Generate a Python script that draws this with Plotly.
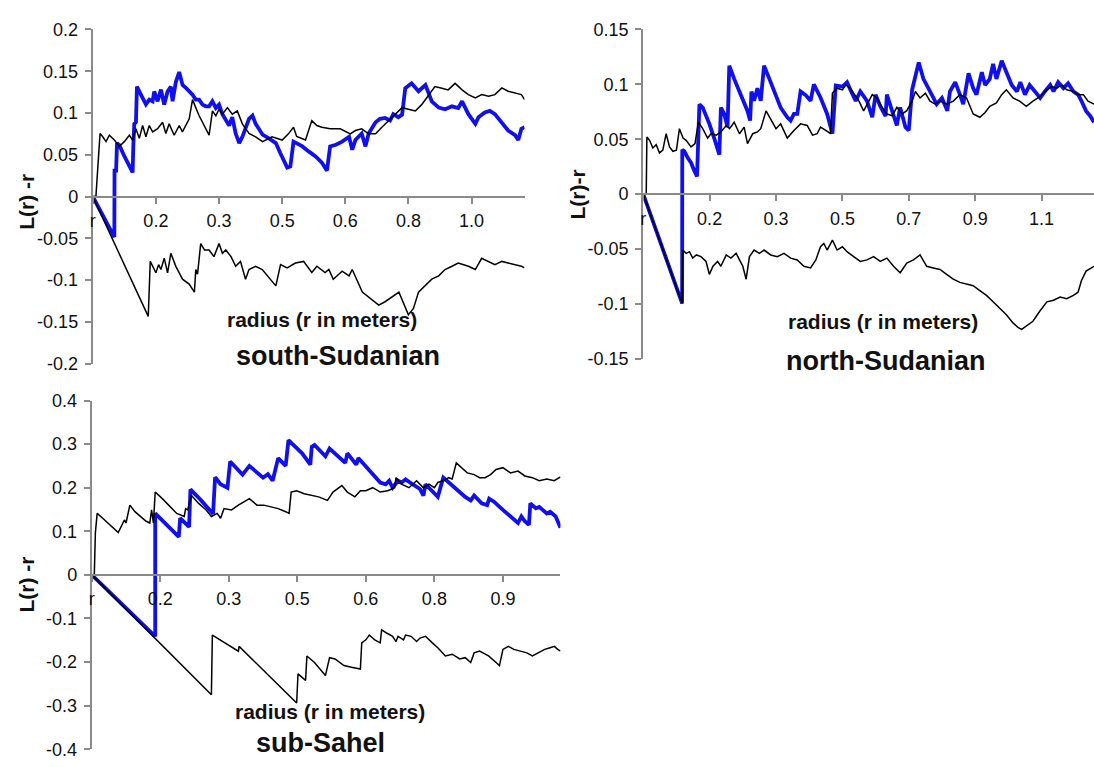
import plotly.graph_objects as go

# ---------------- data (x in category-tick units, y = L(r) - r) ----------------
# Panel 1: south-Sudanian
P1_TICKS = ["r", "0.2", "0.3", "0.5", "0.6", "0.8", "1.0"]
P1_OBS_X = [0, 0.342, 0.345, 0.37, 0.384, 0.421, 0.50, 0.58, 0.632, 0.642, 0.658, 0.684, 0.70, 0.763, 0.842, 0.895, 0.948, 0.974, 1.027, 1.08, 1.132, 1.185, 1.237, 1.264, 1.316, 1.369, 1.422, 1.475, 1.527, 1.58, 1.632, 1.685, 1.738, 1.79, 1.843, 1.895, 1.95, 2.0, 2.054, 2.16, 2.21, 2.264, 2.32, 2.37, 2.475, 2.53, 2.58, 2.69, 2.79, 2.90, 2.97, 3.08, 3.13, 3.18, 3.25, 3.32, 3.42, 3.53, 3.63, 3.71, 3.76, 3.85, 3.95, 4.06, 4.11, 4.16, 4.26, 4.32, 4.37, 4.48, 4.55, 4.63, 4.71, 4.76, 4.84, 4.90, 4.95, 5.05, 5.16, 5.21, 5.27, 5.32, 5.37, 5.48, 5.58, 5.69, 5.79, 5.85, 5.95, 6.06, 6.11, 6.21, 6.29, 6.37, 6.48, 6.58, 6.69, 6.74, 6.79, 6.84]
P1_OBS_Y = [0, -0.0486, 0.031, 0.031, 0.0637, 0.0618, 0.0483, 0.0366, 0.0289, 0.0599, 0.087, 0.089, 0.1316, 0.1219, 0.1103, 0.116, 0.114, 0.1258, 0.114, 0.128, 0.110, 0.1258, 0.1316, 0.114, 0.137, 0.149, 0.1335, 0.130, 0.126, 0.122, 0.116, 0.116, 0.110, 0.108, 0.108, 0.114, 0.106, 0.110, 0.0986, 0.085, 0.095, 0.0754, 0.064, 0.0715, 0.093, 0.097, 0.087, 0.074, 0.0696, 0.064, 0.052, 0.0347, 0.036, 0.0657, 0.063, 0.060, 0.054, 0.048, 0.0405, 0.031, 0.060, 0.062, 0.0657, 0.0715, 0.056, 0.0676, 0.0754, 0.060, 0.0754, 0.089, 0.093, 0.094, 0.091, 0.0986, 0.095, 0.098, 0.1297, 0.1355, 0.126, 0.130, 0.1335, 0.124, 0.114, 0.1064, 0.1045, 0.108, 0.106, 0.114, 0.0986, 0.087, 0.095, 0.1006, 0.1025, 0.0986, 0.089, 0.079, 0.0734, 0.0676, 0.081, 0.083]
P1_UP_X = [0, 0.05, 0.095, 0.116, 0.158, 0.21, 0.263, 0.342, 0.42, 0.50, 0.58, 0.632, 0.684, 0.737, 0.79, 0.842, 0.895, 0.948, 1.027, 1.106, 1.158, 1.21, 1.29, 1.37, 1.42, 1.527, 1.58, 1.685, 1.843, 1.896, 1.95, 2.0, 2.054, 2.133, 2.21, 2.29, 2.37, 2.475, 2.58, 2.69, 2.84, 3.0, 3.10, 3.18, 3.23, 3.37, 3.47, 3.55, 3.63, 3.76, 3.92, 4.08, 4.16, 4.26, 4.37, 4.48, 4.58, 4.69, 4.79, 4.90, 5.0, 5.11, 5.21, 5.32, 5.42, 5.53, 5.63, 5.74, 5.85, 5.95, 6.06, 6.16, 6.27, 6.37, 6.48, 6.58, 6.69, 6.79, 6.84]
P1_UP_Y = [0, 0, 0.052, 0.0754, 0.0715, 0.0657, 0.0734, 0.0676, 0.0599, 0.0657, 0.0734, 0.0676, 0.0812, 0.0696, 0.085, 0.0715, 0.085, 0.0773, 0.0812, 0.089, 0.0754, 0.087, 0.0734, 0.085, 0.0773, 0.0928, 0.116, 0.0967, 0.0734, 0.1025, 0.0967, 0.1045, 0.0986, 0.1064, 0.0986, 0.1025, 0.087, 0.0754, 0.0715, 0.0657, 0.0715, 0.0676, 0.075, 0.083, 0.072, 0.0676, 0.0909, 0.085, 0.083, 0.081, 0.081, 0.075, 0.079, 0.081, 0.075, 0.075, 0.083, 0.0909, 0.0986, 0.1064, 0.1045, 0.1025, 0.110, 0.122, 0.1316, 0.1297, 0.1277, 0.1355, 0.1277, 0.122, 0.118, 0.122, 0.120, 0.122, 0.130, 0.126, 0.124, 0.122, 0.116]
P1_LOW_X = [0, 0.879, 0.911, 0.948, 1.0, 1.043, 1.08, 1.132, 1.185, 1.237, 1.316, 1.422, 1.527, 1.61, 1.632, 1.66, 1.71, 1.77, 1.843, 1.92, 2.0, 2.054, 2.107, 2.19, 2.264, 2.34, 2.42, 2.475, 2.58, 2.685, 2.90, 2.975, 3.08, 3.21, 3.34, 3.47, 3.55, 3.68, 3.74, 3.81, 3.95, 4.06, 4.11, 4.27, 4.42, 4.53, 4.63, 4.71, 4.77, 4.85, 5.0, 5.08, 5.16, 5.27, 5.37, 5.48, 5.58, 5.69, 5.79, 5.95, 6.06, 6.16, 6.27, 6.37, 6.48, 6.58, 6.69, 6.79, 6.84]
P1_LOW_Y = [0, -0.1436, -0.0777, -0.0836, -0.0913, -0.0816, -0.0874, -0.0738, -0.0913, -0.068, -0.0836, -0.099, -0.1048, -0.1145, -0.0874, -0.093, -0.0564, -0.064, -0.064, -0.072, -0.0564, -0.068, -0.064, -0.072, -0.0836, -0.0777, -0.099, -0.0874, -0.0836, -0.0874, -0.107, -0.0816, -0.0855, -0.0797, -0.0777, -0.091, -0.0835, -0.091, -0.0874, -0.099, -0.0893, -0.095, -0.0874, -0.1145, -0.124, -0.130, -0.126, -0.122, -0.118, -0.1145, -0.1416, -0.134, -0.1145, -0.107, -0.099, -0.095, -0.0874, -0.0835, -0.0797, -0.0835, -0.0874, -0.074, -0.0777, -0.0816, -0.0777, -0.0797, -0.0816, -0.0835, -0.0855]

# Panel 2: north-Sudanian
P2_TICKS = ["r", "0.2", "0.3", "0.5", "0.7", "0.9", "1.1"]
P2_OBS_X = [0, 0.586, 0.588, 0.62, 0.67, 0.72, 0.77, 0.81, 0.83, 0.846, 0.896, 0.946, 0.996, 1.07, 1.146, 1.17, 1.22, 1.27, 1.296, 1.37, 1.47, 1.57, 1.61, 1.63, 1.67, 1.72, 1.77, 1.82, 1.90, 2.0, 2.07, 2.17, 2.22, 2.27, 2.32, 2.37, 2.45, 2.52, 2.57, 2.67, 2.77, 2.85, 2.90, 3.0, 3.07, 3.12, 3.20, 3.27, 3.37, 3.45, 3.50, 3.57, 3.65, 3.67, 3.75, 3.82, 3.87, 3.95, 4.0, 4.05, 4.15, 4.22, 4.32, 4.42, 4.50, 4.58, 4.62, 4.70, 4.77, 4.82, 4.90, 4.97, 5.02, 5.10, 5.15, 5.22, 5.27, 5.32, 5.40, 5.47, 5.55, 5.63, 5.68, 5.75, 5.82, 5.90, 5.98, 6.05, 6.13, 6.18, 6.25, 6.33, 6.40, 6.48, 6.55, 6.60, 6.67, 6.73, 6.79]
P2_OBS_Y = [0, -0.0997, 0.0404, 0.039, 0.033, 0.0286, 0.021, 0.016, 0.052, 0.0817, 0.0788, 0.0714, 0.064, 0.0507, 0.036, 0.0788, 0.073, 0.061, 0.117, 0.105, 0.0906, 0.0758, 0.067, 0.0935, 0.085, 0.0965, 0.085, 0.117, 0.105, 0.0906, 0.0788, 0.070, 0.067, 0.073, 0.073, 0.0935, 0.090, 0.085, 0.100, 0.088, 0.073, 0.055, 0.099, 0.098, 0.102, 0.095, 0.085, 0.0935, 0.085, 0.070, 0.0906, 0.080, 0.071, 0.0906, 0.076, 0.0625, 0.079, 0.061, 0.058, 0.095, 0.120, 0.105, 0.0935, 0.082, 0.0876, 0.076, 0.0935, 0.102, 0.0906, 0.082, 0.110, 0.0965, 0.0906, 0.111, 0.0994, 0.105, 0.1186, 0.105, 0.1215, 0.111, 0.0994, 0.0935, 0.102, 0.0906, 0.0994, 0.0935, 0.0876, 0.0935, 0.0994, 0.0935, 0.102, 0.0965, 0.101, 0.0935, 0.0906, 0.085, 0.0758, 0.0714, 0.0655]
P2_UP_X = [0, 0.045, 0.055, 0.095, 0.145, 0.195, 0.245, 0.295, 0.345, 0.396, 0.446, 0.50, 0.545, 0.60, 0.646, 0.72, 0.78, 0.83, 0.896, 0.97, 1.02, 1.10, 1.17, 1.25, 1.30, 1.37, 1.45, 1.52, 1.57, 1.65, 1.72, 1.77, 1.85, 1.92, 2.0, 2.07, 2.17, 2.27, 2.37, 2.47, 2.55, 2.62, 2.67, 2.75, 2.82, 2.85, 2.92, 3.0, 3.05, 3.12, 3.17, 3.25, 3.32, 3.40, 3.45, 3.52, 3.60, 3.67, 3.75, 3.82, 3.90, 3.97, 4.05, 4.10, 4.17, 4.25, 4.32, 4.40, 4.47, 4.57, 4.67, 4.77, 4.87, 4.97, 5.07, 5.15, 5.22, 5.32, 5.40, 5.47, 5.57, 5.67, 5.77, 5.87, 5.98, 6.08, 6.15, 6.23, 6.30, 6.38, 6.48, 6.55, 6.63, 6.70, 6.79]
P2_UP_Y = [0, 0, 0.052, 0.049, 0.042, 0.045, 0.0375, 0.040, 0.055, 0.043, 0.039, 0.040, 0.0596, 0.051, 0.049, 0.043, 0.046, 0.0655, 0.0596, 0.051, 0.055, 0.0537, 0.0566, 0.0625, 0.0596, 0.0655, 0.055, 0.061, 0.046, 0.055, 0.0566, 0.0596, 0.0758, 0.068, 0.0596, 0.064, 0.051, 0.058, 0.064, 0.0625, 0.0537, 0.055, 0.061, 0.058, 0.055, 0.092, 0.0965, 0.095, 0.0994, 0.0965, 0.092, 0.0847, 0.0758, 0.0847, 0.0906, 0.0876, 0.079, 0.073, 0.0714, 0.079, 0.073, 0.076, 0.0847, 0.0935, 0.0876, 0.092, 0.0847, 0.082, 0.0847, 0.082, 0.0847, 0.0906, 0.0876, 0.073, 0.070, 0.0743, 0.080, 0.083, 0.0906, 0.095, 0.0876, 0.0847, 0.080, 0.0847, 0.089, 0.095, 0.098, 0.0965, 0.0994, 0.095, 0.0935, 0.0906, 0.0906, 0.0847, 0.082]
P2_LOW_X = [0, 0.586, 0.596, 0.646, 0.696, 0.746, 0.80, 0.87, 0.946, 0.996, 1.05, 1.12, 1.17, 1.25, 1.32, 1.40, 1.45, 1.50, 1.55, 1.60, 1.67, 1.75, 1.82, 1.92, 2.02, 2.12, 2.22, 2.32, 2.42, 2.52, 2.60, 2.67, 2.72, 2.77, 2.85, 2.92, 3.0, 3.07, 3.17, 3.27, 3.37, 3.47, 3.57, 3.67, 3.77, 3.87, 3.97, 4.07, 4.17, 4.27, 4.37, 4.47, 4.57, 4.67, 4.77, 4.87, 4.97, 5.07, 5.17, 5.27, 5.37, 5.47, 5.57, 5.65, 5.70, 5.77, 5.87, 5.97, 6.08, 6.18, 6.28, 6.38, 6.48, 6.55, 6.60, 6.67, 6.79]
P2_LOW_Y = [0, -0.0997, -0.051, -0.054, -0.0525, -0.0584, -0.0555, -0.057, -0.0614, -0.0732, -0.0658, -0.0614, -0.0658, -0.0555, -0.0584, -0.054, -0.060, -0.0658, -0.0776, -0.057, -0.051, -0.054, -0.051, -0.0555, -0.057, -0.054, -0.0584, -0.060, -0.0658, -0.0673, -0.060, -0.048, -0.045, -0.051, -0.042, -0.051, -0.048, -0.0525, -0.057, -0.0614, -0.060, -0.057, -0.0614, -0.0584, -0.0658, -0.0717, -0.0628, -0.060, -0.0555, -0.0658, -0.0673, -0.0687, -0.0732, -0.0776, -0.0805, -0.082, -0.0835, -0.0879, -0.0923, -0.0982, -0.104, -0.110, -0.1174, -0.1218, -0.1233, -0.120, -0.1159, -0.107, -0.0982, -0.0968, -0.0938, -0.0953, -0.0923, -0.0894, -0.079, -0.0702, -0.0658]

# Panel 3: sub-Sahel
P3_TICKS = ["r", "0.2", "0.3", "0.5", "0.6", "0.8", "0.9"]
P3_OBS_X = [0, 0.926, 0.926, 1.27, 1.29, 1.42, 1.44, 1.59, 1.77, 1.80, 1.88, 1.98, 2.02, 2.20, 2.30, 2.50, 2.57, 2.64, 2.72, 2.83, 2.87, 3.07, 3.19, 3.21, 3.25, 3.41, 3.47, 3.70, 3.73, 3.86, 3.89, 4.21, 4.29, 4.34, 4.39, 4.47, 4.52, 4.58, 4.68, 4.79, 4.84, 4.87, 5.05, 5.13, 5.24, 5.37, 5.45, 5.53, 5.58, 5.69, 5.77, 5.80, 5.87, 6.0, 6.14, 6.22, 6.27, 6.32, 6.38, 6.40, 6.48, 6.53, 6.64, 6.69, 6.77, 6.84]
P3_OBS_Y = [0, -0.141, 0.141, 0.087, 0.130, 0.110, 0.196, 0.172, 0.140, 0.224, 0.208, 0.200, 0.260, 0.230, 0.250, 0.223, 0.231, 0.216, 0.268, 0.250, 0.309, 0.279, 0.253, 0.294, 0.298, 0.272, 0.290, 0.257, 0.279, 0.253, 0.268, 0.212, 0.208, 0.216, 0.200, 0.216, 0.212, 0.219, 0.208, 0.197, 0.182, 0.208, 0.179, 0.223, 0.208, 0.190, 0.179, 0.171, 0.182, 0.164, 0.160, 0.175, 0.168, 0.149, 0.130, 0.119, 0.134, 0.123, 0.115, 0.164, 0.153, 0.156, 0.141, 0.145, 0.134, 0.108]
P3_UP_X = [0, 0.037, 0.053, 0.079, 0.16, 0.24, 0.32, 0.386, 0.42, 0.476, 0.50, 0.556, 0.63, 0.71, 0.794, 0.847, 0.873, 0.90, 0.926, 1.03, 1.14, 1.24, 1.35, 1.37, 1.40, 1.455, 1.56, 1.67, 1.746, 1.83, 1.88, 1.93, 2.04, 2.14, 2.30, 2.41, 2.51, 2.62, 2.72, 2.83, 2.88, 2.91, 2.99, 3.10, 3.20, 3.31, 3.44, 3.52, 3.65, 3.73, 3.84, 3.92, 4.0, 4.10, 4.21, 4.32, 4.42, 4.44, 4.52, 4.63, 4.74, 4.84, 4.92, 5.0, 5.05, 5.13, 5.21, 5.26, 5.32, 5.40, 5.48, 5.58, 5.66, 5.74, 5.82, 5.90, 6.0, 6.11, 6.22, 6.32, 6.43, 6.53, 6.64, 6.75, 6.84]
P3_UP_Y = [0, 0, 0.097, 0.141, 0.130, 0.119, 0.108, 0.097, 0.108, 0.126, 0.119, 0.160, 0.145, 0.134, 0.123, 0.119, 0.149, 0.119, 0.190, 0.175, 0.156, 0.141, 0.134, 0.152, 0.149, 0.182, 0.164, 0.149, 0.134, 0.141, 0.130, 0.152, 0.149, 0.160, 0.175, 0.160, 0.160, 0.156, 0.152, 0.145, 0.141, 0.190, 0.193, 0.186, 0.182, 0.179, 0.171, 0.190, 0.205, 0.190, 0.179, 0.193, 0.193, 0.200, 0.190, 0.193, 0.200, 0.223, 0.208, 0.200, 0.216, 0.200, 0.208, 0.200, 0.212, 0.216, 0.223, 0.220, 0.257, 0.246, 0.234, 0.230, 0.223, 0.223, 0.230, 0.242, 0.246, 0.234, 0.238, 0.227, 0.223, 0.216, 0.220, 0.216, 0.225]
P3_LOW_X = [0, 1.746, 1.76, 2.14, 2.15, 2.99, 3.01, 3.12, 3.14, 3.25, 3.41, 3.47, 3.55, 3.68, 3.79, 3.92, 3.94, 4.0, 4.05, 4.13, 4.21, 4.23, 4.31, 4.39, 4.44, 4.47, 4.55, 4.58, 4.66, 4.74, 4.79, 4.87, 4.97, 5.05, 5.16, 5.26, 5.37, 5.45, 5.53, 5.58, 5.66, 5.79, 5.90, 5.95, 6.0, 6.08, 6.16, 6.27, 6.35, 6.43, 6.51, 6.61, 6.69, 6.75, 6.80, 6.84]
P3_LOW_Y = [0, -0.275, -0.138, -0.175, -0.164, -0.294, -0.227, -0.242, -0.186, -0.201, -0.231, -0.190, -0.193, -0.208, -0.212, -0.216, -0.156, -0.149, -0.138, -0.149, -0.156, -0.126, -0.134, -0.141, -0.153, -0.141, -0.149, -0.138, -0.141, -0.153, -0.145, -0.141, -0.156, -0.167, -0.186, -0.182, -0.193, -0.190, -0.201, -0.179, -0.175, -0.186, -0.201, -0.208, -0.171, -0.164, -0.171, -0.175, -0.179, -0.186, -0.179, -0.171, -0.167, -0.164, -0.171, -0.175]

Y1_TICKS = [0.2, 0.15, 0.1, 0.05, 0, -0.05, -0.1, -0.15, -0.2]
Y1_TEXT = ["0.2", "0.15", "0.1", "0.05", "0", "-0.05", "-0.1", "-0.15", "-0.2"]
Y2_TICKS = [0.15, 0.1, 0.05, 0, -0.05, -0.1, -0.15]
Y2_TEXT = ["0.15", "0.1", "0.05", "0", "-0.05", "-0.1", "-0.15"]
Y3_TICKS = [0.4, 0.3, 0.2, 0.1, 0, -0.1, -0.2, -0.3, -0.4]
Y3_TEXT = ["0.4", "0.3", "0.2", "0.1", "0", "-0.1", "-0.2", "-0.3", "-0.4"]

# ---------------- layout helpers ----------------
W, H = 1094, 767
FONT = "Liberation Sans, Arial, Helvetica, sans-serif"
BLUE = "#1010ee"
GRAY = "#8a8a8a"


def fx(px):
    return px / W


def fy(py):
    return 1 - py / H


fig = go.Figure()

panels = [
    ("x", "y", (P1_OBS_X, P1_OBS_Y), (P1_UP_X, P1_UP_Y), (P1_LOW_X, P1_LOW_Y)),
    ("x2", "y2", (P2_OBS_X, P2_OBS_Y), (P2_UP_X, P2_UP_Y), (P2_LOW_X, P2_LOW_Y)),
    ("x3", "y3", (P3_OBS_X, P3_OBS_Y), (P3_UP_X, P3_UP_Y), (P3_LOW_X, P3_LOW_Y)),
]
for xa, ya, obs, up, low in panels:
    fig.add_trace(go.Scatter(x=obs[0], y=obs[1], mode="lines", xaxis=xa, yaxis=ya,
                             line=dict(color=BLUE, width=3.8), hoverinfo="skip"))
    fig.add_trace(go.Scatter(x=up[0], y=up[1], mode="lines", xaxis=xa, yaxis=ya,
                             line=dict(color="black", width=1.5), hoverinfo="skip"))
    fig.add_trace(go.Scatter(x=low[0], y=low[1], mode="lines", xaxis=xa, yaxis=ya,
                             line=dict(color="black", width=1.5), hoverinfo="skip"))


def xaxis_cfg(dom, xmax, ticks, zero_py):
    return dict(domain=dom, range=[0, xmax], anchor="free", position=fy(zero_py),
                showline=True, linecolor=GRAY, linewidth=2, showgrid=False, zeroline=False,
                ticks="outside", ticklen=6, tickwidth=1.5, tickcolor=GRAY,
                tickvals=list(range(len(ticks))), ticktext=ticks,
                ticklabelstandoff=2,
                tickfont=dict(family=FONT, size=18, color="#111"))


def yaxis_cfg(dom, rng, tv, tt, anchor):
    return dict(domain=dom, range=rng, anchor=anchor, showline=True, linecolor=GRAY,
                linewidth=2, showgrid=False, zeroline=False, ticks="outside", ticklen=6,
                tickwidth=1.5, tickcolor=GRAY, tickvals=tv, ticktext=tt,
                ticklabelstandoff=3,
                tickfont=dict(family=FONT, size=18, color="#111"))


fig.update_layout(
    width=W, height=H, margin=dict(l=0, r=0, t=0, b=0), autosize=False,
    paper_bgcolor="white", plot_bgcolor="white", showlegend=False,
    xaxis=xaxis_cfg([fx(90), fx(523)], 6.84, P1_TICKS, 191.5),
    yaxis=yaxis_cfg([fy(363), fy(20)], [-0.2, 0.2], Y1_TICKS, Y1_TEXT, "x"),
    xaxis2=xaxis_cfg([fx(642), 1.0], 6.79, P2_TICKS, 189),
    yaxis2=yaxis_cfg([fy(358), fy(20)], [-0.15, 0.15], Y2_TICKS, Y2_TEXT, "x2"),
    xaxis3=xaxis_cfg([fx(89), fx(559)], 6.84, P3_TICKS, 580),
    yaxis3=yaxis_cfg([fy(759), fy(401)], [-0.4, 0.4], Y3_TICKS, Y3_TEXT, "x3"),
)


def label(text, px, py, size, angle=0):
    fig.add_annotation(text=text, x=fx(px), y=fy(py), xref="paper", yref="paper",
                       xanchor="center", yanchor="middle", showarrow=False, textangle=angle,
                       font=dict(family=FONT, size=size, color="#111"))


label("<b>L(r) -r</b>", 24, 197, 21, -90)
label("<b>L(r)-r</b>", 576, 189, 21, -90)
label("<b>L(r) -r</b>", 24, 590, 21, -90)
label("<b>radius (r in meters)</b>", 320, 318, 21)
label("<b>radius (r in meters)</b>", 882, 320, 21)
label("<b>radius (r in meters)</b>", 328, 720, 21)
label("<b>south-Sudanian</b>", 336, 355, 27)
label("<b>north-Sudanian</b>", 885, 360, 27)
label("<b>sub-Sahel</b>", 318, 753, 27)

fig.write_html("out.html")
